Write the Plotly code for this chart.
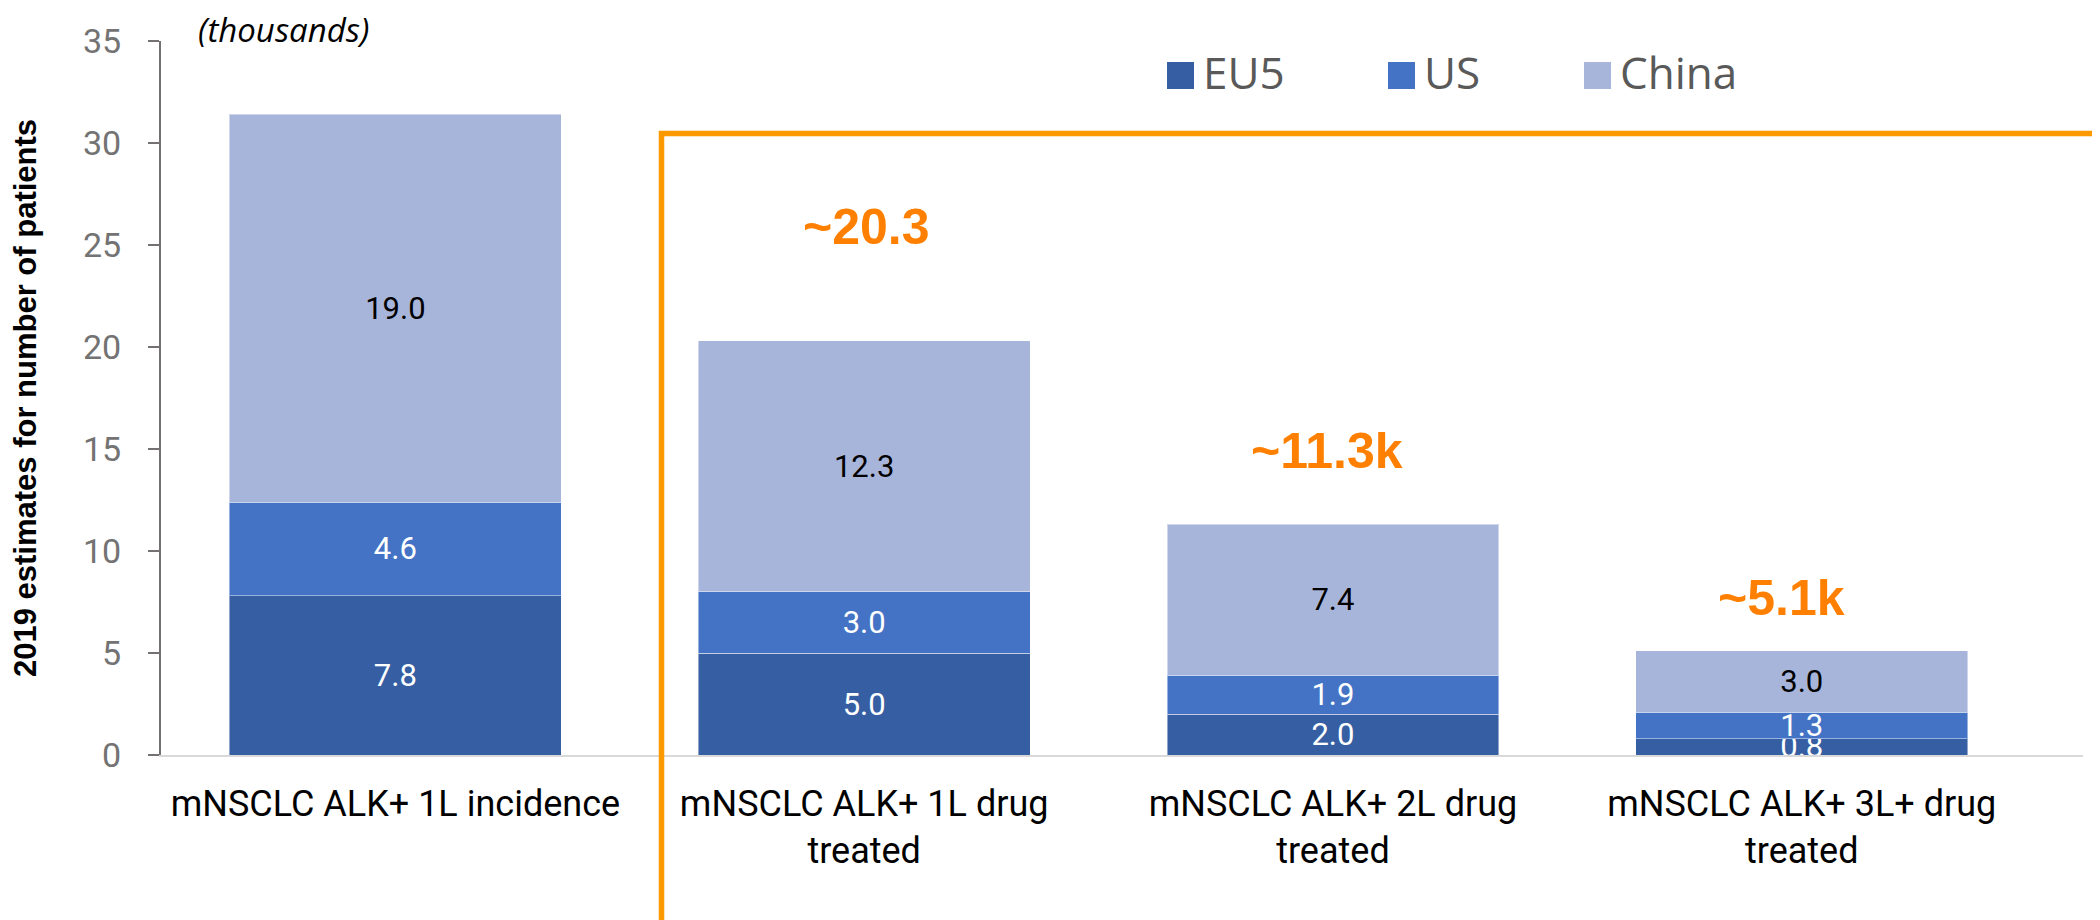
import plotly.graph_objects as go

# ---------------- data ----------------
categories = [
    "mNSCLC ALK+ 1L incidence",
    "mNSCLC ALK+ 1L drug<br>treated",
    "mNSCLC ALK+ 2L drug<br>treated",
    "mNSCLC ALK+ 3L+ drug<br>treated",
]
series_names = ["EU5", "US", "China"]
eu5 = [7.8, 5.0, 2.0, 0.8]
us = [4.6, 3.0, 1.9, 1.3]
china = [19.0, 12.3, 7.4, 3.0]
total_labels = ["", "~20.3", "~11.3k", "~5.1k"]
y_ticks = [0, 5, 10, 15, 20, 25, 30, 35]

# ---------------- styles ----------------
colors = ["#365FA3", "#4473C5", "#A8B5DA"]
label_colors = ["white", "white", "black"]
OFF = 8  # page body margin
W, H = 2100 - OFF, 920 - OFF
# plot area in screen pixels (reference)
SX0, SX1, SY_TOP, SY0 = 161, 2083, 41, 755
L, R = SX0 - OFF, W - (SX1 - OFF)
T, B = SY_TOP - OFF, H - (SY0 - OFF)
PW, PH = W - L - R, H - T - B


def px_x(p):
    return (p - SX0) / PW


def px_y(p):
    return (SY0 - p) / PH


fig = go.Figure()
for name, vals, col, lc in zip(series_names, [eu5, us, china], colors, label_colors):
    fig.add_trace(go.Bar(
        x=categories, y=vals, name=name,
        marker=dict(color=col, line=dict(color="rgba(255,255,255,0.45)", width=1)),
        texttemplate="%{y:.1f}", textposition="inside", insidetextanchor="middle",
        textangle=0, constraintext="none",
        textfont=dict(family="Roboto", size=31, color=lc),
        showlegend=False, hoverinfo="skip",
    ))

annotations = []
# orange total call-outs
shifts = [(0, 0), (2, 25.9), (-6, 14.9), (-20, 7.7)]
for i, txt in enumerate(total_labels):
    if not txt:
        continue
    annotations.append(dict(
        x=categories[i], y=shifts[i][1], xref="x", yref="y", text="<b>%s</b>" % txt,
        showarrow=False, xshift=shifts[i][0], xanchor="center", yanchor="middle",
        font=dict(family="Liberation Sans", size=50, color="#FF8000"),
    ))

# "(thousands)"
annotations.append(dict(
    x=px_x(283), y=px_y(29), xref="paper", yref="paper", text="<i>(thousands)</i>",
    showarrow=False, xanchor="center", yanchor="middle",
    font=dict(family="Open Sans", size=33, color="black"),
))

# manual legend (large square swatches)
sq_left = [1167, 1388, 1584]
sq = 27
leg_cy = 75.5
shapes = []
for name, col, xl in zip(series_names, colors, sq_left):
    shapes.append(dict(
        type="rect", xref="paper", yref="paper",
        x0=px_x(xl), x1=px_x(xl + sq), y0=px_y(leg_cy + sq / 2), y1=px_y(leg_cy - sq / 2),
        fillcolor=col, line=dict(width=0),
    ))
    annotations.append(dict(
        x=px_x(xl + sq + 7), y=px_y(leg_cy - 3), xref="paper", yref="paper", text=name,
        showarrow=False, xanchor="left", yanchor="middle",
        font=dict(family="Open Sans", size=44, color="#595959"),
    ))

# orange bracket
bx, by = 661.5, 133.5
shapes.append(dict(
    type="path", xref="paper", yref="paper",
    path="M %f,%f L %f,%f L %f,%f" % (px_x(bx), px_y(930), px_x(bx), px_y(by), px_x(2110), px_y(by)),
    line=dict(color="#FF9900", width=5.5),
))

fig.update_layout(
    width=W, height=H, barmode="stack", bargap=0.292,
    margin=dict(l=L, r=R, t=T, b=B, autoexpand=False),
    plot_bgcolor="white", paper_bgcolor="white",
    annotations=annotations, shapes=shapes,
    font=dict(family="Roboto"),
)
fig.update_xaxes(
    range=[-0.5, 3.6], showgrid=False, showline=True, linecolor="#D9D9D9", linewidth=2,
    ticks="", tickfont=dict(family="Roboto", size=36, color="black"), ticklabelstandoff=16,
    automargin=False,
)
fig.update_yaxes(
    range=[0, 35], tickvals=y_ticks, showgrid=False, zeroline=False,
    showline=True, linecolor="#767171", linewidth=2,
    ticks="outside", ticklen=11, tickwidth=2, tickcolor="#767171",
    tickfont=dict(family="Roboto", size=34, color="#737373"), ticklabelstandoff=20,
    title=dict(text="<b>2019 estimates for number of patients</b>", standoff=49,
               font=dict(family="Liberation Sans", size=31, color="black")),
    automargin=False,
)

fig.write_html("out.html")
